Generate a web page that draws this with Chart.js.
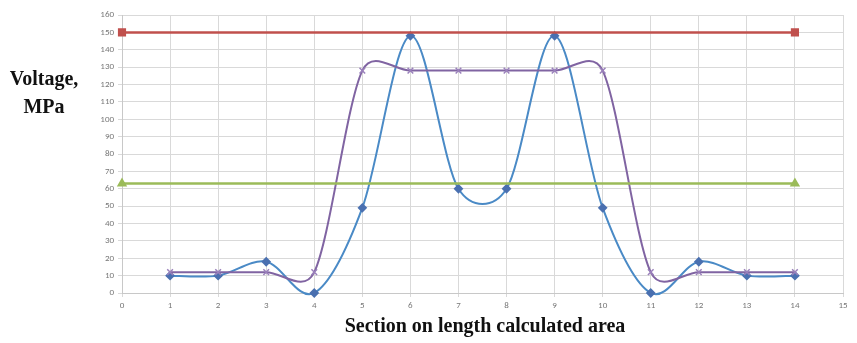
<!DOCTYPE html>
<html>
<head>
<meta charset="utf-8">
<script src="https://cdn.jsdelivr.net/npm/chart.js@4"></script>
<style>
  html, body { margin: 0; padding: 0; background: #fff; }
  #wrap { position: relative; width: 857px; height: 343px; }
  #ytitle { position: absolute; left: 0; top: 64px; width: 88px; text-align: center;
    font: bold 20px "Liberation Serif", "Times New Roman", serif; line-height: 28px; color: #111; }
  #xtitle { position: absolute; left: 0; width: 970px; top: 314px; text-align: center;
    font: bold 20px "Liberation Serif", "Times New Roman", serif; color: #111; }
</style>
</head>
<body>
<div id="wrap">
  <canvas id="chart" width="857" height="343"></canvas>
  <div id="ytitle">Voltage,<br>MPa</div>
  <div id="xtitle">Section on length calculated area</div>
</div>
<script>
const sections = [1, 2, 3, 4, 5, 6, 7, 8, 9, 10, 11, 12, 13, 14];
const stressA = [10, 10, 18, 0, 49, 148, 60, 60, 148, 49, 0, 18, 10, 10];
const stressB = [12, 12, 12, 12, 128, 128, 128, 128, 128, 128, 12, 12, 12, 12];
const limitX = [0, 14];
const limitHigh = [150, 150];
const limitLow = [63, 63];

function pts(xs, ys) { return xs.map((x, i) => ({ x: x, y: ys[i] })); }

// spreadsheet-style smoothing: tangent = (next - prev) / 6, capped at half the adjacent segment
const smoothPlugin = {
  id: 'smooth',
  beforeDatasetDraw(chart, args) {
    const meta = args.meta;
    if (!meta.dataset || !meta.dataset.options.tension) return;
    const p = meta.data;
    const n = p.length;
    for (let i = 0; i < n; i++) {
      const prev = p[Math.max(i - 1, 0)], cur = p[i], next = p[Math.min(i + 1, n - 1)];
      const tx = next.x - prev.x, ty = next.y - prev.y;
      const tl = Math.hypot(tx, ty) || 1;
      const dPrev = Math.hypot(cur.x - prev.x, cur.y - prev.y);
      const dNext = Math.hypot(next.x - cur.x, next.y - cur.y);
      const lenIn = Math.min(tl / 6, dPrev / 2);
      const lenOut = Math.min(tl / 6, dNext / 2);
      cur.cp1x = cur.x - tx / tl * lenIn;
      cur.cp1y = cur.y - ty / tl * lenIn;
      cur.cp2x = cur.x + tx / tl * lenOut;
      cur.cp2y = cur.y + ty / tl * lenOut;
    }
    meta.dataset._pointsUpdated = true;
    meta.dataset._path = undefined;
  }
};

const tickFont = { family: 'Calibri, Carlito, "Liberation Sans", sans-serif', size: 9 };

const ctx = document.getElementById('chart').getContext('2d');
new Chart(ctx, {
  type: 'line',
  plugins: [smoothPlugin],
  data: {
    datasets: [
      {
        label: 'High limit',
        data: pts(limitX, limitHigh),
        borderColor: '#c0504d',
        backgroundColor: '#c0504d',
        borderWidth: 2.5,
        pointStyle: 'rect',
        pointRadius: 4,
        tension: 0,
        clip: false,
      },
      {
        label: 'Low limit',
        data: pts(limitX, limitLow),
        borderColor: '#9bbb59',
        backgroundColor: '#9bbb59',
        borderWidth: 2.5,
        pointStyle: 'triangle',
        pointRadius: 3.5,
        tension: 0,
        clip: false,
      },
      {
        label: 'B',
        data: pts(sections, stressB),
        borderColor: '#8064a2',
        backgroundColor: '#9a80bb',
        pointBorderColor: '#9a80bb',
        borderWidth: 2,
        pointStyle: 'crossRot',
        pointRadius: 4,
        pointBorderWidth: 1.5,
        tension: 0.4,
        clip: false,
      },
      {
        label: 'A',
        data: pts(sections, stressA),
        borderColor: '#4a8ac6',
        backgroundColor: '#4a70b0',
        pointBorderColor: '#4a70b0',
        borderWidth: 2,
        pointStyle: 'rectRot',
        pointRadius: 3.5,
        tension: 0.4,
        clip: false,
      },
    ]
  },
  options: {
    responsive: false,
    animation: false,
    layout: { padding: { left: 92, right: 14, top: 15, bottom: 0 } },
    plugins: { legend: { display: false }, tooltip: { enabled: false } },
    scales: {
      x: {
        type: 'linear',
        min: 0, max: 15,
        ticks: { stepSize: 1, color: '#777', font: tickFont, padding: 3 },
        grid: { color: '#d9d9d9', tickLength: 4 },
        border: { color: '#c8c8c8' },
        afterFit: s => { s.height = 50; },
      },
      y: {
        min: 0, max: 160,
        ticks: { stepSize: 10, color: '#777', font: tickFont, padding: 4 },
        grid: { color: '#d9d9d9', tickLength: 4 },
        border: { color: '#c8c8c8' },
        afterFit: s => { s.width = 30; },
      }
    }
  }
});
</script>
</body>
</html>
